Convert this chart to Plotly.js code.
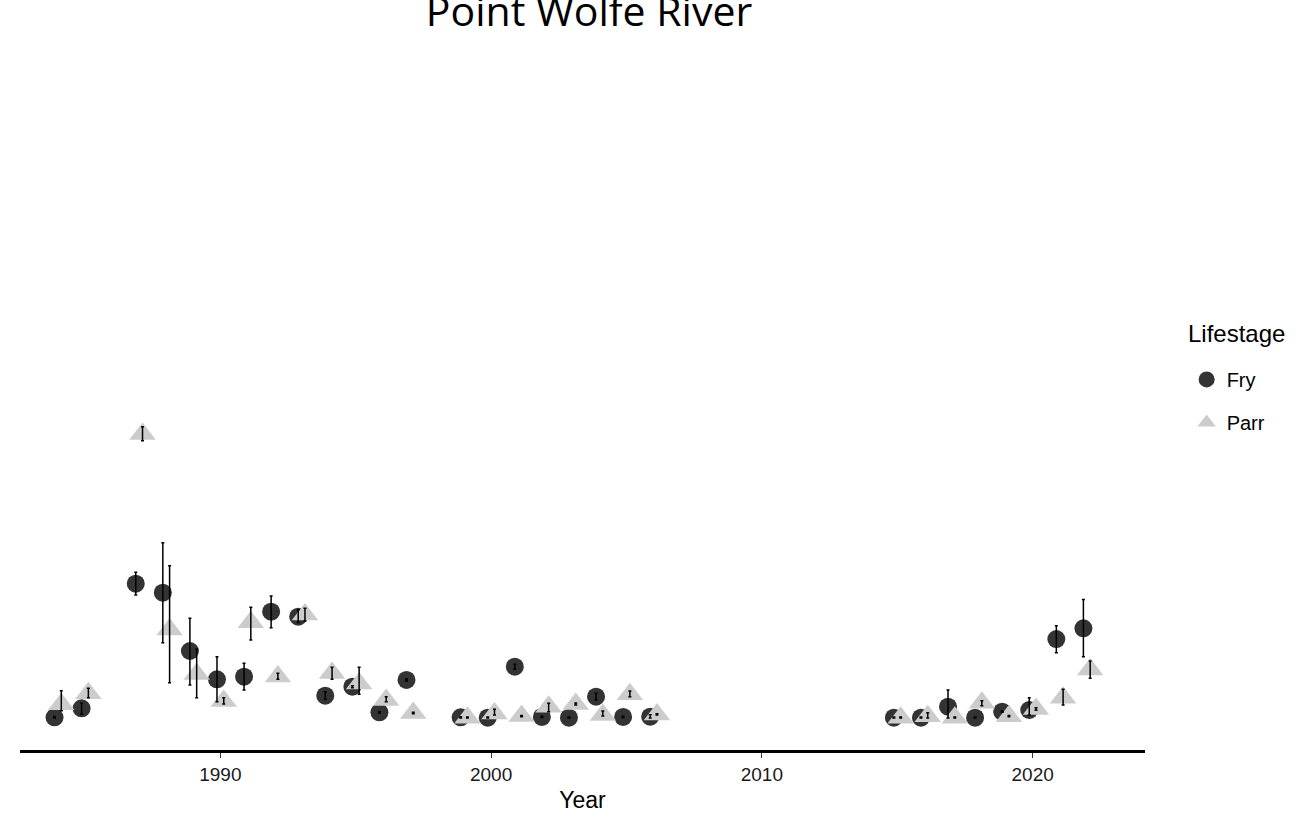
<!DOCTYPE html>
<html>
<head>
<meta charset="utf-8">
<script src="https://cdn.plot.ly/plotly-3.0.1.min.js"></script>
<style>html,body{margin:0;padding:0;background:#fff;}#chart{width:1304px;height:817px;}</style>
</head>
<body>
<div id="chart"></div>
<script>
// Fry (lifestage) — value and interval ends
const fryYears = [1984,1985,1987,1988,1989,1990,1991,1992,1993,1994,1995,1996,1997,1999,2000,2001,2002,2003,2004,2005,2006,2015,2016,2017,2018,2019,2020,2021,2022];
const fryValue = [0.10,1.52,20.98,19.58,10.47,6.05,6.45,16.61,15.83,3.48,4.89,0.89,5.94,0.10,0.05,8.02,0.16,0.05,3.33,0.16,0.20,0.05,0.05,1.77,0.05,0.98,1.25,12.34,14.02];
const fryUpper = [0.25,2.30,22.77,27.39,15.58,9.58,8.55,19.06,16.91,4.11,5.05,0.99,6.09,0.20,0.15,8.39,0.26,0.15,3.86,0.26,0.50,0.15,0.15,4.38,0.15,1.08,3.17,14.42,18.52];
const fryLower = [0.00,0.58,19.22,11.77,5.16,2.55,4.38,14.11,14.92,2.92,4.73,0.79,5.79,0.00,0.00,7.61,0.06,0.00,2.81,0.06,0.00,0.00,0.00,0.00,0.00,0.88,0.47,10.20,9.58];

// Parr (lifestage) — value and interval ends
const parrYears = [1984,1985,1987,1988,1989,1990,1991,1992,1993,1994,1995,1996,1997,1999,2000,2001,2002,2003,2004,2005,2006,2015,2016,2017,2018,2019,2020,2021,2022];
const parrValue = [2.14,3.88,44.38,13.81,6.89,2.66,14.97,6.47,16.17,7.03,5.39,2.81,0.78,0.05,0.69,0.31,1.75,2.19,0.45,3.70,0.55,0.05,0.28,0.05,2.38,0.28,1.42,3.17,7.59];
const parrUpper = [4.27,4.64,45.52,23.80,10.73,3.17,17.30,6.98,17.14,7.92,7.92,3.33,0.88,0.15,1.36,0.41,2.30,2.34,1.09,4.22,0.65,0.15,0.83,0.15,2.70,0.38,1.62,4.48,8.91];
const parrLower = [1.14,3.17,43.33,5.52,3.17,2.19,12.19,6.05,15.16,6.05,3.70,2.55,0.68,0.00,0.47,0.21,0.98,2.04,0.31,3.33,0.45,0.00,0.00,0.00,1.92,0.18,1.22,2.03,6.20];

const xTicks = [1990, 2000, 2010, 2020];
const legendTitle = 'Lifestage';
const dodge = 0.125;

const fryX = fryYears.map(y => y - dodge);
const parrX = parrYears.map(y => y + dodge);
const plus = (u, v) => u.map((a, i) => a - v[i]);
const minus = (v, l) => v.map((a, i) => a - l[i]);

const fryColor = '#333333';
const parrColor = '#cccccc';

const traces = [
  {
    type: 'scatter', mode: 'markers', name: 'Fry', x: fryX, y: fryValue,
    marker: {symbol: 'circle', size: 18, color: fryColor, line: {width: 0}},
    legendgroup: 'a', hoverinfo: 'x+y'
  },
  {
    type: 'scatter', mode: 'markers', name: 'Parr', x: parrX, y: parrValue,
    marker: {symbol: 'triangle-up', size: 23, color: parrColor, line: {width: 0}},
    legendgroup: 'b', hoverinfo: 'x+y'
  },
  {
    type: 'scatter', mode: 'markers', showlegend: false, x: fryX, y: fryValue,
    marker: {size: 1, opacity: 0}, hoverinfo: 'skip',
    error_y: {type: 'data', symmetric: false, array: plus(fryUpper, fryValue), arrayminus: minus(fryValue, fryLower),
              color: '#000000', thickness: 1.5, width: 1.5}
  },
  {
    type: 'scatter', mode: 'markers', showlegend: false, x: parrX, y: parrValue,
    marker: {size: 1, opacity: 0}, hoverinfo: 'skip',
    error_y: {type: 'data', symmetric: false, array: plus(parrUpper, parrValue), arrayminus: minus(parrValue, parrLower),
              color: '#000000', thickness: 1.5, width: 1.5}
  }
];

const layout = {
  width: 1304, height: 817,
  margin: {l: 20, r: 159, t: 46, b: 67, pad: 0},
  paper_bgcolor: '#ffffff', plot_bgcolor: '#ffffff',
  font: {family: 'Liberation Sans, Arial, sans-serif', color: '#000000'},
  title: {
    text: 'Point Wolfe River',
    font: {family: 'Open Sans, sans-serif', size: 41, color: '#000000'},
    xref: 'container', x: 0.4517, xanchor: 'center',
    yref: 'container', y: 0.986, yanchor: 'middle'
  },
  xaxis: {
    range: [1982.6, 2024.15],
    tickmode: 'array', tickvals: xTicks, ticktext: xTicks.map(String),
    ticks: 'outside', ticklen: 5, tickwidth: 1.2, tickcolor: '#333333',
    showline: true, linecolor: '#000000', linewidth: 2.5,
    showgrid: false, zeroline: false,
    tickfont: {size: 19, color: '#1a1a1a'},
    title: {text: 'Year', font: {size: 23, color: '#000000'}, standoff: 9}
  },
  yaxis: {
    range: [-5, 105], visible: false, showgrid: false, zeroline: false
  },
  showlegend: true,
  legend: {
    xref: 'container', yref: 'container',
    x: 0.910, y: 0.5595, xanchor: 'left', yanchor: 'top',
    font: {size: 20, color: '#000000'},
    traceorder: 'grouped', tracegroupgap: 14,
    bgcolor: 'rgba(0,0,0,0)', borderwidth: 0
  },
  annotations: [{
    text: legendTitle, xref: 'paper', yref: 'paper',
    x: (1186 - 20) / 1125, y: (750 - 333) / 704,
    xanchor: 'left', yanchor: 'middle', showarrow: false,
    font: {size: 24, color: '#000000'}
  }],
  hovermode: 'closest'
};

Plotly.newPlot('chart', traces, layout, {displayModeBar: false, responsive: false});
</script>
</body>
</html>
